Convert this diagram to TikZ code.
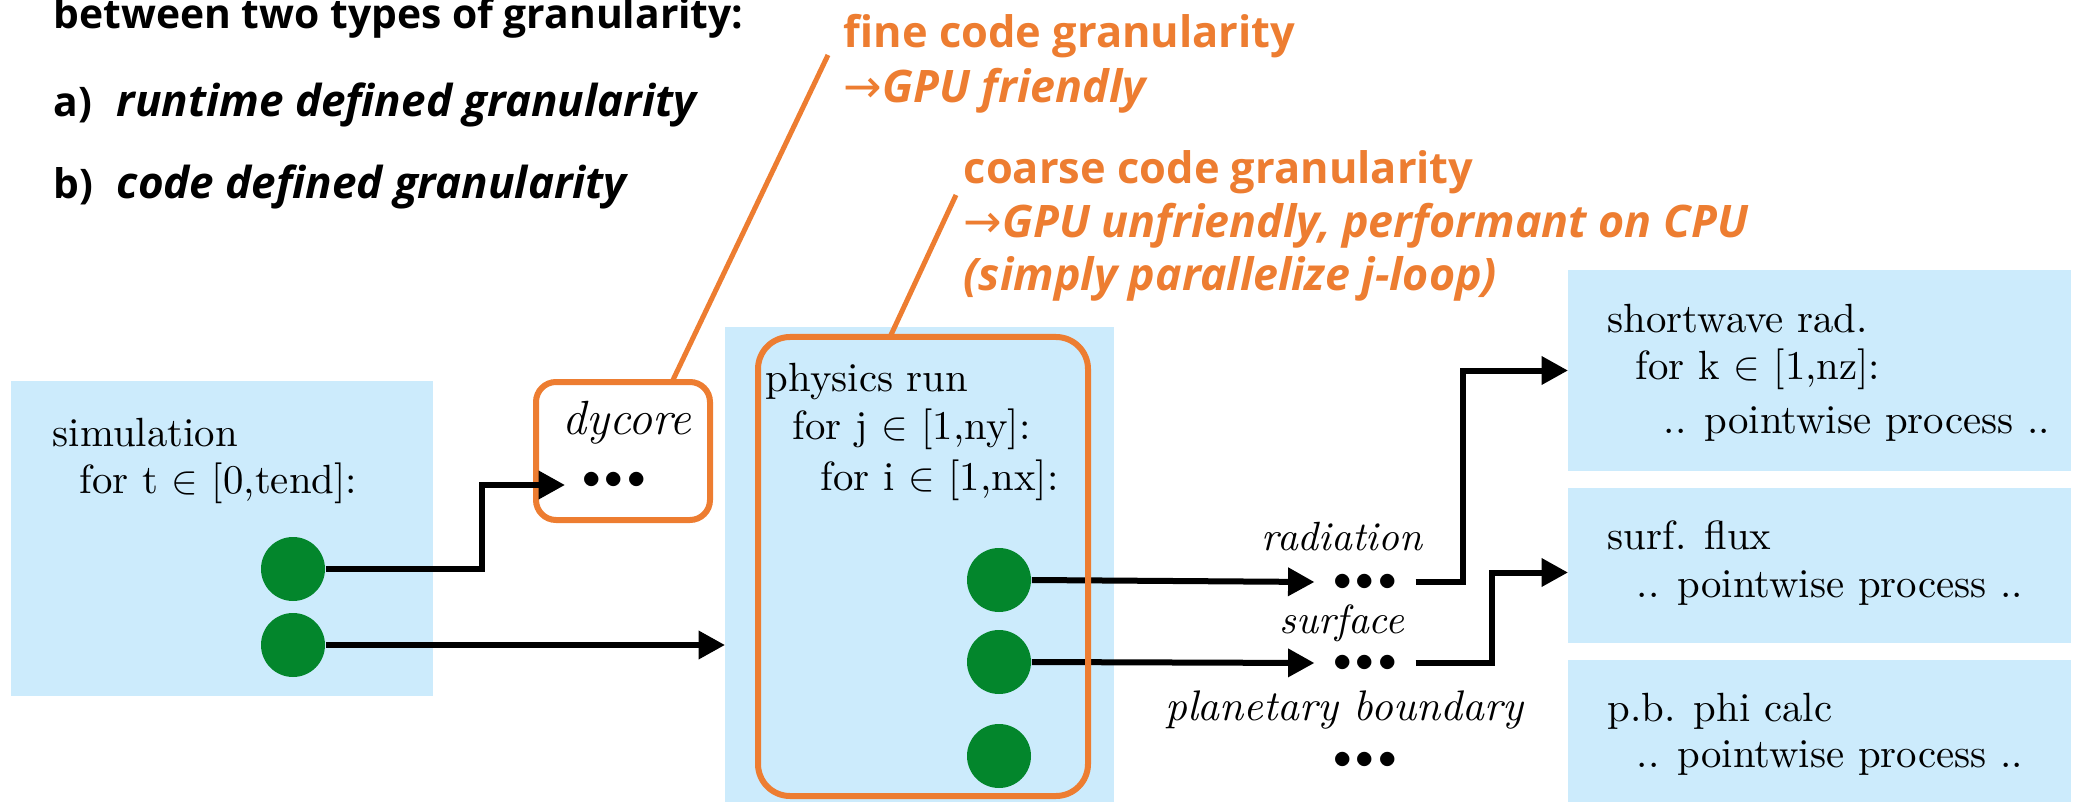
\documentclass[tikz,border=0pt]{standalone}
\usepackage{fontspec}
\newfontfamily\osans{Open Sans}
\newfontfamily\djv{DejaVu Sans}
\usetikzlibrary{arrows.meta,calc}
\definecolor{lb}{RGB}{204,235,252}
\definecolor{gr}{RGB}{3,134,44}
\definecolor{orng}{RGB}{237,125,49}
\newcommand\sfu{\osans\bfseries\fontsize{10.2}{12}\selectfont}
\newcommand\sfi{\osans\bfseries\itshape\fontsize{11}{12}\selectfont}
\newcommand\ofu{\osans\bfseries\fontsize{10.85}{12}\selectfont}
\newcommand\ofi{\osans\bfseries\itshape\fontsize{11.2}{12}\selectfont}
\newcommand\rmx{\fontsize{10.2}{12}\selectfont}
\newcommand\tdots{{\fontsize{9}{8}\selectfont${\bullet}\kern1pt{\bullet}\kern1pt{\bullet}$}}
\newcommand\rarr{{\djv\mdseries\upshape\fontsize{11.5}{8}\selectfont →}}
\begin{document}
\begin{tikzpicture}[x=0.25pt,y=-0.25pt,
  bgbox/.style={fill=lb,inner sep=0,outer sep=0,anchor=north west},
  orbox/.style={draw=orng,line width=1.5pt,inner sep=0,outer sep=0,anchor=north west},
  gdot/.style={circle,fill=gr,minimum size=16pt,inner sep=0},
  conn/.style={line width=1.5pt,-{Triangle[length=6.6pt,width=6.8pt]}},
  lead/.style={draw=orng,line width=1.25pt},
  txt/.style={anchor=base west,inner sep=0,font=\rmx},
  stxt/.style={anchor=base west,inner sep=0,font=\sfu},
  otxt/.style={anchor=base west,inner sep=0,font=\ofu,text=orng},
  lbl/.style={anchor=base,inner sep=0,font=\rmx\itshape},
  dotsn/.style={inner xsep=4.5pt,inner ysep=0pt,font=\rmx}]
\useasboundingbox (0,0) rectangle (2078,802);
% backgrounds
\node[bgbox,minimum width=105.5pt,minimum height=78.75pt] (sim) at (11,381) {};
\node[bgbox,minimum width=97.25pt,minimum height=118.75pt] (physbg) at (725,327) {};
\node[bgbox,minimum width=125.75pt,minimum height=50.25pt] (rb1) at (1568,270) {};
\node[bgbox,minimum width=125.75pt,minimum height=38.75pt] (rb2) at (1568,488) {};
\node[bgbox,minimum width=125.75pt,minimum height=35.5pt] (rb3) at (1568,660) {};
% leader lines
\coordinate (f1) at (672,382);
\coordinate (f2) at (828,55);
\coordinate (c1) at (890,337);
\coordinate (c2) at (956,195);
\draw[lead] (f1) -- (f2);
\draw[lead] (c1) -- (c2);
% dycore box
\node[orbox,fill=white,rounded corners=5pt,minimum width=43.5pt,minimum height=34.5pt] (dyc) at (536,382) {};
% green dots
\node[gdot] (s1) at (293,569) {};
\node[gdot] (s2) at (293,645) {};
\node[gdot] (p1) at (999,580) {};
\node[gdot] (p2) at (999,662) {};
\node[gdot] (p3) at (999,756) {};
% dots
\node[inner sep=0,font=\rmx] (ddots) at (614,480) {\tdots};
\node[dotsn] (rdots) at (1365,582) {\tdots};
\node[dotsn] (sdots) at (1365,663) {\tdots};
\node[dotsn] (pdots) at (1365,760) {\tdots};
% connectors
\coordinate (dycin) at (565,485);
\coordinate (e1) at (482,0);
\coordinate (e2) at (1463,0);
\coordinate (e3) at (1492,0);
\draw[conn] (s1.east) -- (s1.east -| e1) |- (dycin);
\draw[conn] (s2.east) -- (s2.east -| physbg.west);
\draw[conn] (p1.east) -- (rdots.west);
\draw[conn] (p2.east) -- (sdots.west);
\draw[conn] (rdots.east) -- (rdots.east -| e2) |- (rb1.west);
\draw[conn] (sdots.east) -- (sdots.east -| e3) |- ($(rb2.west)+(0,7)$);
% physics orange box
\node[orbox,rounded corners=8pt,minimum width=82.5pt,minimum height=114.75pt] (phys) at (758,337) {};
% texts
\node[txt] (t1) at (52,446) {simulation};
\node[txt] (t2) at (79,493) {for t $\in$ [0,tend]:};
\node[lbl,font=\fontsize{12}{14}\selectfont\itshape] (t3) at (627,434) {dycore};
\node[txt] (t4) at (765,392) {physics run};
\node[txt] (t5) at (792,440) {for j $\in$ [1,ny]:};
\node[txt] (t6) at (820,490) {for i $\in$ [1,nx]:};
\node[lbl] (l1) at (1342,550) {radiation};
\node[lbl] (l2) at (1342,633) {surface};
\node[lbl,font=\fontsize{10.7}{12}\selectfont\itshape] (l3) at (1344,720) {planetary boundary};
\node[txt] (r1) at (1607,333) {shortwave rad.};
\node[txt] (r2) at (1635,380) {for k $\in$ [1,nz]:};
\node[txt] (r3) at (1663,433) {.. pointwise process ..};
\node[txt] (r4) at (1607,549) {surf. flux};
\node[txt] (r5) at (1636,597) {.. pointwise process ..};
\node[txt] (r6) at (1607,721) {p.b. phi calc};
\node[txt] (r7) at (1636,767) {.. pointwise process ..};
% header texts
\node[stxt] (h0) at (53,29) {between two types of granularity:};
\node[stxt] (ha) at (53,117) {a)};
\node[stxt,font=\sfi] (ha2) at (116,117) {runtime defined granularity};
\node[stxt] (hb) at (53,199) {b)};
\node[stxt,font=\sfi] (hb2) at (116,199) {code defined granularity};
\node[otxt] (o1) at (843,48) {fine code granularity};
\node[otxt,font=\ofi] (o2) at (843,103) {\rarr GPU friendly};
\node[otxt] (o3) at (963,184) {coarse code granularity};
\node[otxt,font=\ofi] (o4) at (963,238) {\rarr GPU unfriendly, performant on CPU};
\node[otxt,font=\ofi] (o5) at (963,291) {(simply parallelize j-loop)};
\end{tikzpicture}
\end{document}
